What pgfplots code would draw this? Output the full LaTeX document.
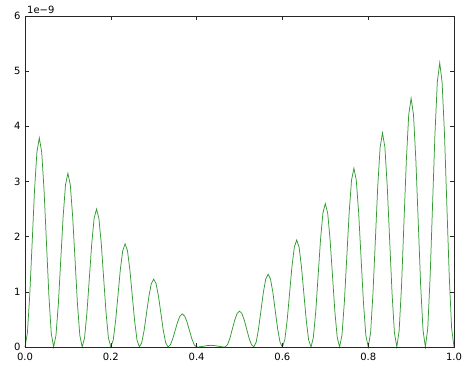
\documentclass[border=0pt]{standalone}
\usepackage{fontspec}
\setmainfont{DejaVu Sans}
\usepackage{pgfplots}
\usepackage{pgfplotstable}
\pgfplotsset{compat=1.18}
\definecolor{mplgreen}{RGB}{50,155,50}
\definecolor{mplblue}{RGB}{90,90,230}
\pgfplotstableread{
x y
0 0
0.0056 0.254
0.0111 0.948
0.0167 1.895
0.0222 2.843
0.0278 3.536
0.0333 3.79
0.0389 3.536
0.0444 2.843
0.05 1.895
0.0556 0.948
0.0611 0.254
0.0667 0
0.0722 0.211
0.0778 0.788
0.0833 1.575
0.0889 2.363
0.0944 2.939
0.1 3.15
0.1056 2.939
0.1111 2.363
0.1167 1.575
0.1222 0.788
0.1278 0.211
0.1333 0
0.1389 0.168
0.1444 0.625
0.15 1.25
0.1556 1.875
0.1611 2.333
0.1667 2.5
0.1722 2.333
0.1778 1.875
0.1833 1.25
0.1889 0.625
0.1944 0.168
0.2 0
0.2056 0.125
0.2111 0.468
0.2167 0.935
0.2222 1.403
0.2278 1.745
0.2333 1.87
0.2389 1.745
0.2444 1.403
0.25 0.935
0.2556 0.468
0.2611 0.125
0.2667 0
0.2722 0.082
0.2778 0.308
0.2833 0.615
0.2889 0.923
0.2944 1.148
0.3 1.23
0.3056 1.148
0.3111 0.923
0.3167 0.615
0.3222 0.308
0.3278 0.082
0.3333 0
0.3389 0.04
0.3444 0.15
0.35 0.3
0.3556 0.45
0.3611 0.56
0.3667 0.6
0.3722 0.56
0.3778 0.45
0.3833 0.3
0.3889 0.15
0.3944 0.04
0.4 0
0.4056 0.002
0.4111 0.008
0.4167 0.015
0.4222 0.023
0.4278 0.028
0.4333 0.03
0.4389 0.028
0.4444 0.023
0.45 0.015
0.4556 0.008
0.4611 0.002
0.4667 0
0.4722 0.044
0.4778 0.163
0.4833 0.325
0.4889 0.488
0.4944 0.606
0.5 0.65
0.5056 0.606
0.5111 0.488
0.5167 0.325
0.5222 0.163
0.5278 0.044
0.5333 0
0.5389 0.088
0.5444 0.33
0.55 0.66
0.5556 0.99
0.5611 1.232
0.5667 1.32
0.5722 1.232
0.5778 0.99
0.5833 0.66
0.5889 0.33
0.5944 0.088
0.6 0
0.6056 0.13
0.6111 0.485
0.6167 0.97
0.6222 1.455
0.6278 1.81
0.6333 1.94
0.6389 1.81
0.6444 1.455
0.65 0.97
0.6556 0.485
0.6611 0.13
0.6667 0
0.6722 0.174
0.6778 0.65
0.6833 1.3
0.6889 1.95
0.6944 2.426
0.7 2.6
0.7056 2.426
0.7111 1.95
0.7167 1.3
0.7222 0.65
0.7278 0.174
0.7333 0
0.7389 0.217
0.7444 0.81
0.75 1.62
0.7556 2.43
0.7611 3.023
0.7667 3.24
0.7722 3.023
0.7778 2.43
0.7833 1.62
0.7889 0.81
0.7944 0.217
0.8 0
0.8056 0.26
0.8111 0.97
0.8167 1.94
0.8222 2.91
0.8278 3.62
0.8333 3.88
0.8389 3.62
0.8444 2.91
0.85 1.94
0.8556 0.97
0.8611 0.26
0.8667 0
0.8722 0.302
0.8778 1.128
0.8833 2.255
0.8889 3.383
0.8944 4.208
0.9 4.51
0.9056 4.208
0.9111 3.383
0.9167 2.255
0.9222 1.128
0.9278 0.302
0.9333 0
0.9389 0.345
0.9444 1.288
0.95 2.575
0.9556 3.863
0.9611 4.805
0.9667 5.15
0.9722 4.805
0.9778 3.863
0.9833 2.575
0.9889 1.288
0.9944 0.345
1.0 0
}\greendata
\pgfplotstableread{
x y
0 0
1 0
}\bluedata
\begin{document}
\begin{tikzpicture}
\begin{axis}[
  name=ax, at={(0,0)}, anchor=south west,
  scale only axis, width=429pt, height=331pt,
  xmin=0, xmax=1, ymin=0, ymax=6,
  xtick={0,0.2,0.4,0.6,0.8,1.0},
  ytick={0,1,2,3,4,5,6},
  scaled ticks=false,
  xticklabel style={yshift=-2.5pt, /pgf/number format/.cd, fixed, fixed zerofill, precision=1},
  yticklabel style={xshift=-1pt},
  /pgf/number format/assume math mode=true,
  tick label style={font=\fontsize{10}{12}\selectfont},
  tick align=inside, tick pos=both,
  major tick length=4pt,
  axis line style={black!85, line width=0.8pt},
  every tick/.style={black!85, line width=0.6pt},
  axis on top,
  clip=false,
]
\addplot[mplblue, line width=1pt] table[x=x,y=y] {\bluedata};
\addplot[mplgreen, line width=0.75pt] table[x=x,y=y] {\greendata};
\end{axis}
\node[anchor=south west, inner sep=0pt, font=\fontsize{10}{12}\selectfont] at ([xshift=2pt,yshift=2pt]ax.north west) {1e−9};
\pgfresetboundingbox
\path (-25pt,-21pt) rectangle (437pt,347pt);
\end{tikzpicture}
\end{document}
